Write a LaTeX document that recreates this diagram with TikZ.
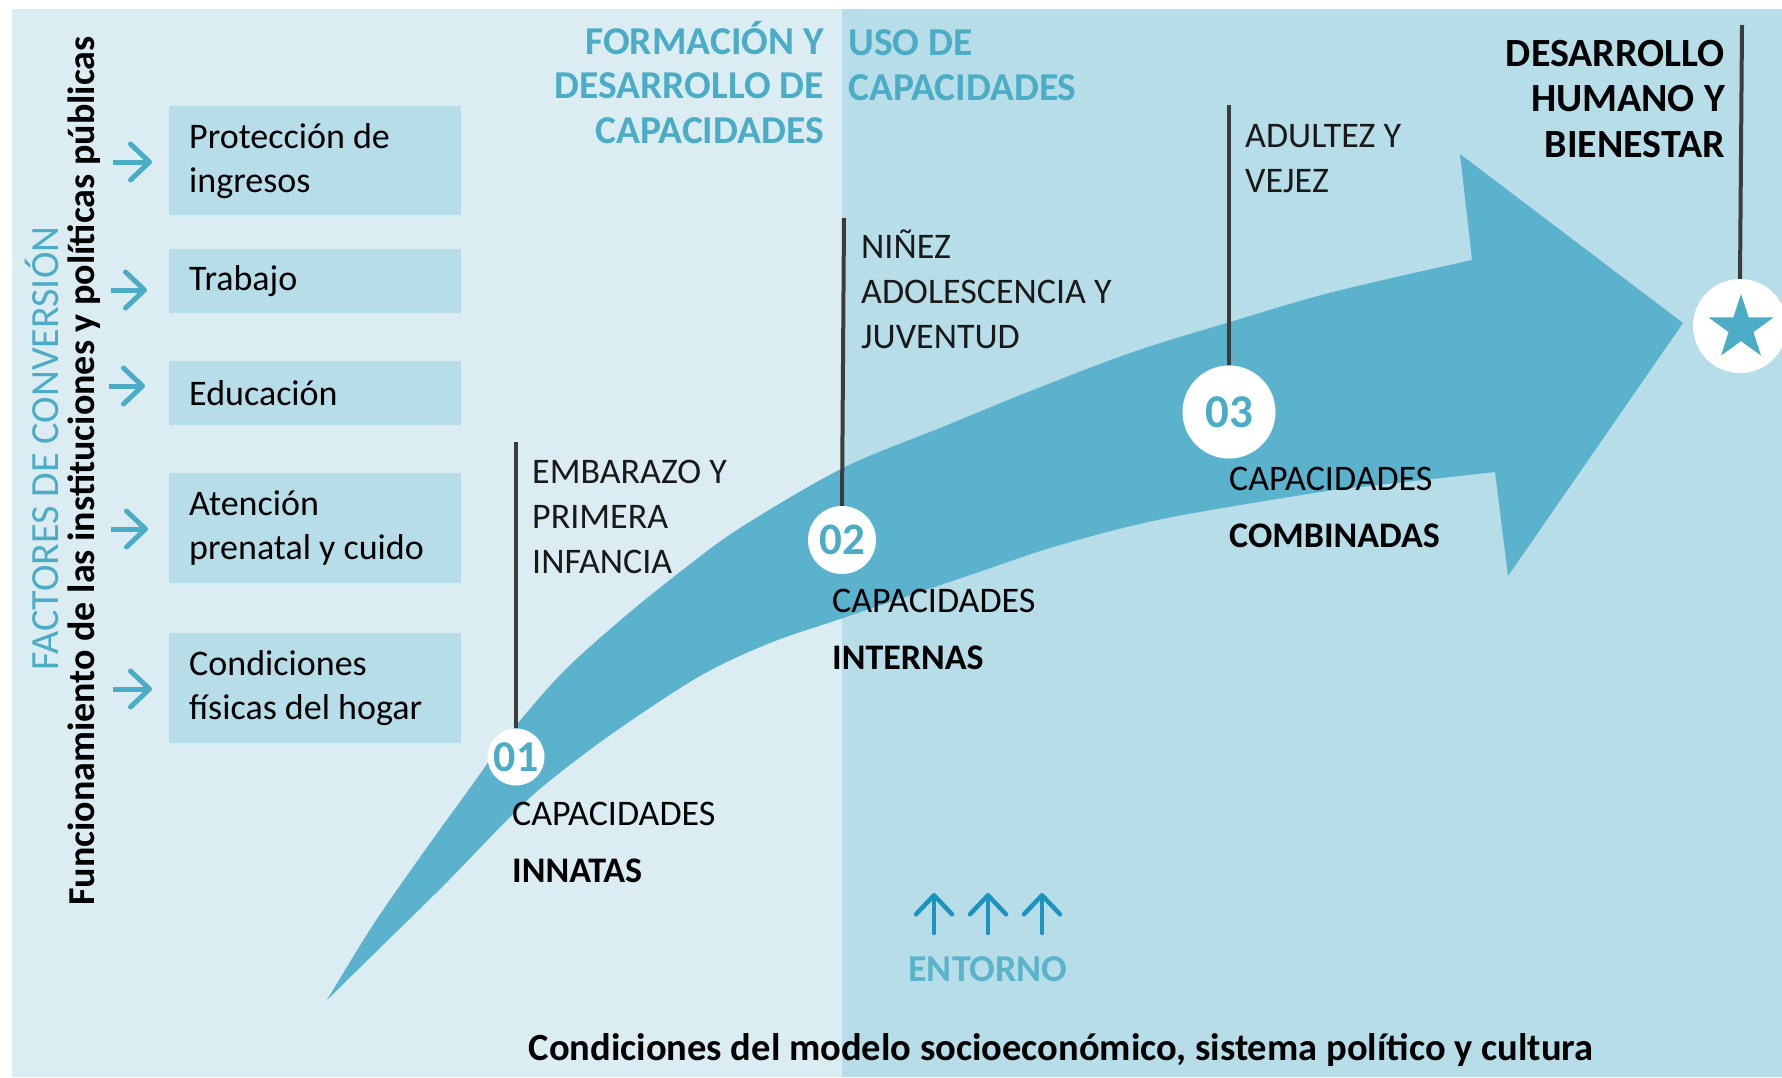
\documentclass[tikz,border=0pt]{standalone}
\usepackage{fontspec}
\setmainfont{Carlito}
\usetikzlibrary{arrows.meta,shapes.geometric}
\definecolor{bglight}{HTML}{DBEDF3}
\definecolor{bgdark}{HTML}{B7DDE8}
\definecolor{tealA}{HTML}{4BACC6}
\definecolor{ribbonC}{HTML}{5AB2CD}
\definecolor{arrowblue}{HTML}{1C94BE}
\definecolor{lineg}{HTML}{3C3C3C}
\begin{document}
\begin{tikzpicture}[x=1pt,y=-1pt,
  boxst/.style={fill=bgdark, anchor=north west, text width=252pt, inner xsep=20pt, inner ysep=0pt, align=flush left, font=\fontsize{36}{44}\selectfont},
  larrow/.style={draw=tealA, line width=5pt, -{Straight Barb[length=19pt,width=36pt,round]}},
  uarrow/.style={draw=arrowblue, line width=4.5pt, line cap=round, -{Straight Barb[length=19pt,width=36pt,round]}},
  vline/.style={draw=lineg, line width=4pt},
  numc/.style={circle, fill=white, inner sep=0pt, text=tealA, font=\bfseries\fontsize{45}{45}\selectfont},
  headL/.style={inner sep=0pt, text=tealA, font=\bfseries\fontsize{39.5}{44.5}\selectfont},
  headB/.style={inner sep=0pt, text=black, font=\bfseries\fontsize{40}{45.5}\selectfont},
  stagest/.style={inner sep=0pt, anchor=base west, align=left, text=black!90, font=\fontsize{36}{45}\selectfont},
  capst/.style={inner sep=0pt, anchor=base west, align=left, text=black, font=\fontsize{36}{57}\selectfont}
]
\useasboundingbox (0,0) rectangle (1782,1077);
% backgrounds
\fill[white] (0,0) rectangle (1782,1077);
\fill[bglight] (12,9) rectangle (842,1077);
\fill[bgdark] (842,9) rectangle (1782,1077);

% ribbon arrow
\fill[ribbonC] plot[smooth, tension=0.55] coordinates {(327,1000) (373,925) (423,853) (470,788) (510,733) (563,672) (623,618) (680,572) (740,528) (843,468) (940,428) (1033,390) (1133,352) (1230,322) (1333,292) (1472,260)}
  -- (1460,154) -- (1683,323) -- (1508,576) -- (1495,472)
  -- plot[smooth, tension=0.55] coordinates {(1333,490) (1167,518) (1060,545) (973,574) (843,618) (770,643) (700,676) (613,733) (547,783) (510,817) (447,882) (385,943) (327,1000)} -- cycle;

% boxes
\node[boxst, minimum height=109pt] (b1) at (169,106) {Protección de\\ingresos};
\node[boxst, minimum height=64pt] (b2) at (169,249) {Trabajo};
\node[boxst, minimum height=64pt] (b3) at (169,361) {Educación};
\node[boxst, minimum height=110pt] (b4) at (169,473) {Atención\\prenatal y cuido};
\node[boxst, minimum height=110pt] (b5) at (169,633) {Condiciones\\físicas del hogar};

% left arrows
\coordinate (a1) at (113,162);
\coordinate (a2) at (111,290);
\coordinate (a3) at (109,386);
\coordinate (a4) at (111,529);
\coordinate (a5) at (113,689);
\draw[larrow, shorten >=17pt] (a1) -- (b1.west |- a1);
\draw[larrow, shorten >=22pt] (a2) -- (b2.west |- a2);
\draw[larrow, shorten >=24pt] (a3) -- (b3.west |- a3);
\draw[larrow, shorten >=21pt] (a4) -- (b4.west |- a4);
\draw[larrow, shorten >=17pt] (a5) -- (b5.west |- a5);

% vertical texts
\node[rotate=90, anchor=base west, inner sep=0pt, text=tealA, font=\fontsize{40}{40}\selectfont] (fac) at (58,671) {FACTORES DE CONVERSIÓN};
\node[rotate=90, anchor=base west, inner sep=0pt, text=black, font=\bfseries\fontsize{38}{38}\selectfont] (fun) at (94,906) {Funcionamiento de las instituciones y políticas públicas};

% headings (base = last line)
\node[headL, anchor=base east, align=right] (hform) at (824,143) {FORMACIÓN Y\\DESARROLLO DE\\CAPACIDADES};
\node[headL, anchor=base west, align=left] (huso) at (848,100) {USO DE\\CAPACIDADES};
\node[headB, anchor=base east, align=right] (hdes) at (1725,157) {DESARROLLO\\HUMANO Y\\BIENESTAR};

% circles
\node[numc, minimum size=57pt, font=\bfseries\fontsize{44}{44}\selectfont] (c1) at (516,757) {01};
\node[numc, minimum size=68pt] (c2) at (842,540) {02};
\node[numc, minimum size=93pt, font=\bfseries\fontsize{47}{47}\selectfont] (c3) at (1229,412) {03};
\node[circle, fill=white, inner sep=0pt, minimum size=94pt] (cs) at (1740,326) {};
\node[star, star points=5, star point ratio=2.6, fill=tealA, inner sep=0pt, minimum size=68pt] (st) at (1741,328) {};

% vertical lines
\coordinate (t1) at (516,442);
\coordinate (t2) at (844,218);
\coordinate (t3) at (1229,105);
\coordinate (ts) at (1742,25);
\draw[vline] (t1) -- (c1.north);
\draw[vline] (t2) -- (c2.north);
\draw[vline] (t3) -- (c3.north);
\draw[vline] (ts) -- (cs.north);

% stage labels (base = last line)
\node[stagest] (l1) at (532,573) {EMBARAZO Y\\PRIMERA\\INFANCIA};
\node[stagest] (l2) at (861,348) {NIÑEZ\\ADOLESCENCIA Y\\JUVENTUD};
\node[stagest] (l3) at (1245,192) {ADULTEZ Y\\VEJEZ};

% capacity labels
\node[capst] (k1) at (512,882) {CAPACIDADES\\\textbf{INNATAS}};
\node[capst] (k2) at (832,669) {CAPACIDADES\\\textbf{INTERNAS}};
\node[capst] (k3) at (1229,547) {CAPACIDADES\\\textbf{COMBINADAS}};

% entorno
\coordinate (u1a) at (934,933);
\coordinate (u1b) at (934,893);
\coordinate (u2a) at (988,933);
\coordinate (u2b) at (988,893);
\coordinate (u3a) at (1042,933);
\coordinate (u3b) at (1042,893);
\draw[uarrow] (u1a) -- (u1b);
\draw[uarrow] (u2a) -- (u2b);
\draw[uarrow] (u3a) -- (u3b);
\node[anchor=base, inner sep=0pt, text=tealA!92!white, font=\bfseries\fontsize{38}{38}\selectfont] (ent) at (988,981) {ENTORNO};

% bottom text
\node[anchor=base, inner sep=0pt, text=black, font=\bfseries\fontsize{38.5}{38.5}\selectfont] (cond) at (1061,1060) {Condiciones del modelo socioeconómico, sistema político y cultura};
\end{tikzpicture}
\end{document}
